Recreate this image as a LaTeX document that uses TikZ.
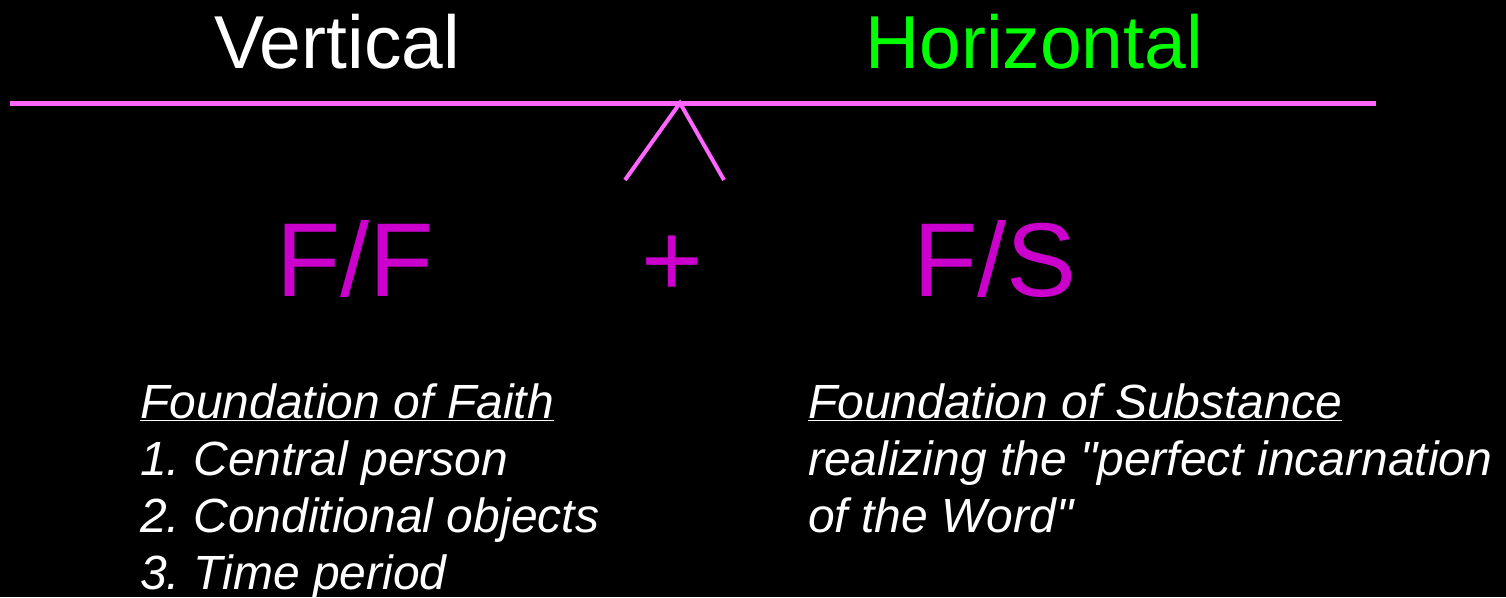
\documentclass[tikz,border=0pt]{standalone}
\usepackage{fontspec}
\setmainfont{Liberation Sans}[Ligatures=TeXOff]
\frenchspacing
\definecolor{beam}{RGB}{255,102,255}
\definecolor{ff}{RGB}{204,0,204}
\definecolor{hgreen}{RGB}{0,255,0}
\tikzset{
  title/.style={inner sep=0pt, anchor=base, font=\fontsize{75}{75}\selectfont},
  big/.style={inner sep=0pt, anchor=base, text=ff, font=\fontsize{105}{105}\selectfont},
  body/.style={inner sep=0pt, anchor=base west, text=white, font=\fontsize{48}{48}\selectfont\itshape},
  beamline/.style={draw=beam, line width=5pt}
}
\begin{document}
\begin{tikzpicture}[x=1pt,y=-1pt]
\fill[black] (0,0) rectangle (1506,597);
\useasboundingbox (0,0) rectangle (1506,597);
\node[title, text=white] (vert) at (337,68) {Vertical};
\node[title, text=hgreen] (horiz) at (1034,68) {Horizontal};
\coordinate (bl) at (10,103);
\coordinate (br) at (1376,103);
\coordinate (apex) at (680,103);
\coordinate (legl) at (625,180);
\coordinate (legr) at (724,180);
\draw[beamline] (bl) -- (br);
\draw[beamline, line width=4pt] (legl) -- (apex) -- (legr);
\node[big] (FF) at (355,296) {F/F};
\node[big] (plus) at (672,296) {+};
\node[big] (FS) at (995,296) {F/S};
\node[body] (l1) at (140,418) {\underline{Foundation of Faith}};
\node[body] (l2) at (140,475) {1. Central person};
\node[body] (l3) at (140,532) {2. Conditional objects};
\node[body] (l4) at (140,589) {3. Time period};
\node[body] (r1) at (808,418) {\underline{Foundation of Substance}};
\node[body] (r2) at (808,475) {realizing the "perfect incarnation};
\node[body] (r3) at (808,532) {of the Word"};
\end{tikzpicture}
\end{document}
